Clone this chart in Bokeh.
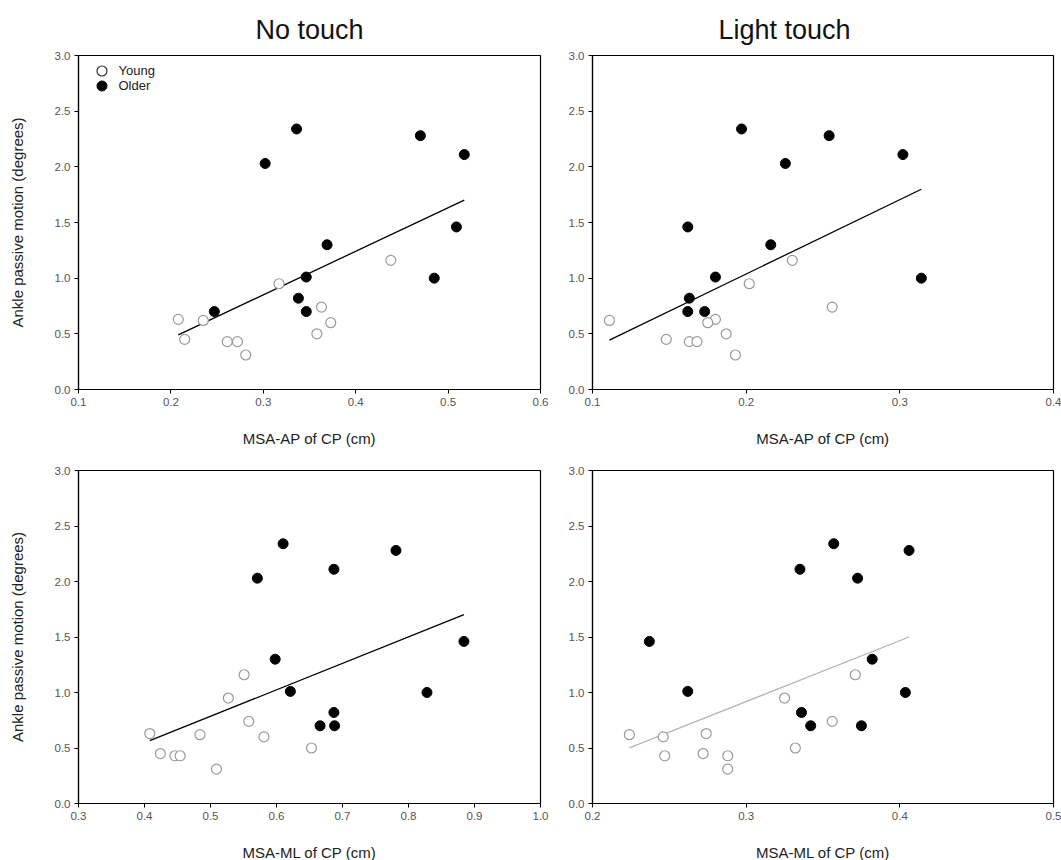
import numpy as np
from bokeh.plotting import figure
from bokeh.layouts import column, row
from bokeh.models import Legend, LegendItem, FixedTicker, PrintfTickFormatter, Range1d
from bokeh.embed import file_html
from bokeh.resources import INLINE

# Ankle passive motion (degrees) -- shared by every panel
y_young = [0.63, 0.45, 0.62, 0.43, 0.43, 0.31, 0.95, 0.50, 0.74, 0.60, 1.16]
y_older = [0.70, 2.03, 2.34, 0.82, 1.01, 0.70, 1.30, 2.28, 1.00, 1.46, 2.11]

# MSA-AP of CP (cm), No touch
ap_nt_young = [0.208, 0.215, 0.235, 0.261, 0.272, 0.281, 0.317, 0.358, 0.363, 0.373, 0.438]
ap_nt_older = [0.247, 0.302, 0.336, 0.338, 0.3465, 0.3465, 0.369, 0.470, 0.485, 0.509, 0.5175]
# MSA-AP of CP (cm), Light touch
ap_lt_young = [0.180, 0.148, 0.111, 0.163, 0.168, 0.193, 0.202, 0.187, 0.256, 0.175, 0.230]
ap_lt_older = [0.162, 0.2255, 0.197, 0.163, 0.180, 0.173, 0.216, 0.254, 0.314, 0.162, 0.302]
# MSA-ML of CP (cm), No touch
ml_nt_young = [0.408, 0.424, 0.484, 0.446, 0.454, 0.509, 0.527, 0.653, 0.558, 0.581, 0.551]
ml_nt_older = [0.666, 0.571, 0.610, 0.687, 0.621, 0.688, 0.598, 0.781, 0.828, 0.884, 0.687]
# MSA-ML of CP (cm), Light touch
ml_lt_young = [0.274, 0.272, 0.224, 0.247, 0.288, 0.288, 0.325, 0.332, 0.356, 0.246, 0.371]
ml_lt_older = [0.342, 0.3725, 0.357, 0.336, 0.262, 0.375, 0.382, 0.406, 0.4036, 0.237, 0.335]

y_ticks = [0.0, 0.5, 1.0, 1.5, 2.0, 2.5, 3.0]
x_ticks_ap_nt = [0.1, 0.2, 0.3, 0.4, 0.5, 0.6]
x_ticks_ap_lt = [0.1, 0.2, 0.3, 0.4]
x_ticks_ml_nt = [0.3, 0.4, 0.5, 0.6, 0.7, 0.8, 0.9, 1.0]
x_ticks_ml_lt = [0.2, 0.3, 0.4, 0.5]

titles = ["No touch", "Light touch"]
x_labels = ["MSA-AP of CP (cm)", "MSA-ML of CP (cm)"]
y_label = "Ankle passive motion (degrees)"
legend_labels = ["Young", "Older"]

FONT = "Liberation Sans"


def make_legend(label, renderer, loc):
    lg = Legend(items=[LegendItem(label=label, renderers=[renderer])],
                location=loc)
    lg.background_fill_alpha = 0
    lg.border_line_color = None
    lg.inactive_fill_alpha = 0
    lg.padding = 0
    lg.margin = 0
    lg.glyph_width = 25
    lg.glyph_height = 25
    lg.label_height = 13
    lg.label_standoff = 5
    lg.label_text_font = FONT
    lg.label_text_font_size = "13px"
    lg.label_text_color = "#222222"
    return lg


def panel(xy, xo, xticks, xlabel, ylabel, title, title_offset, fit_color,
          legend, fw, fh, bl, br, bt, bb):
    p = figure(frame_width=fw, frame_height=fh,
               x_range=Range1d(xticks[0], xticks[-1]),
               y_range=Range1d(y_ticks[0], y_ticks[-1]),
               output_backend="svg", toolbar_location=None,
               min_border_left=bl, min_border_right=br,
               min_border_top=bt, min_border_bottom=bb,
               background_fill_color="white", border_fill_color="white")
    p.grid.visible = False
    p.outline_line_color = "black"
    p.outline_line_width = 1.2

    for ax, ticks in ((p.xaxis[0], xticks), (p.yaxis[0], y_ticks)):
        ax.ticker = FixedTicker(ticks=ticks)
        ax.formatter = PrintfTickFormatter(format="%.1f")
        ax.major_tick_in = 0
        ax.major_tick_out = 4
        ax.minor_tick_line_color = None
        ax.axis_line_color = "black"
        ax.axis_line_width = 1.2
        ax.major_tick_line_color = "black"
        ax.major_label_text_font = FONT
        ax.major_label_text_font_size = "11.5px"
        ax.major_label_text_color = "#555555"
        ax.major_label_standoff = 4
        ax.axis_label_text_font = FONT
        ax.axis_label_text_font_size = "15px"
        ax.axis_label_text_font_style = "normal"
        ax.axis_label_text_color = "#222222"

    p.xaxis.axis_label = xlabel
    p.xaxis.axis_label_standoff = 21
    if ylabel:
        p.yaxis.axis_label = ylabel
        p.yaxis.axis_label_standoff = 26

    if title:
        p.title.text = title
        p.title.text_font = FONT
        p.title.text_font_size = "27px"
        p.title.text_font_style = "normal"
        p.title.text_color = "#111111"
        if title_offset is None:
            p.title.align = "center"
        else:
            p.title.align = "left"
            p.title.offset = title_offset
        p.title.standoff = 22

    # regression line through all subjects
    xa = np.array(xy + xo)
    ya = np.array(y_young + y_older)
    coef = np.polyfit(xa, ya, 1)
    xs = np.array([xa.min(), xa.max()])
    p.line(xs, np.polyval(coef, xs), line_color=fit_color, line_width=1.3)

    p.scatter(xy, y_young, size=10, fill_color="white",
              line_color="#9a9a9a", line_width=1.2)
    p.scatter(xo, y_older, size=10, fill_color="black",
              line_color="black", line_width=1)

    if legend:
        ry = p.scatter(xy, y_young, fill_color="white",
                       line_color="#333333", line_width=1.2, visible=False)
        ro = p.scatter(xo, y_older, fill_color="black",
                       line_color="black", visible=False)
        p.add_layout(make_legend(legend_labels[0], ry, (10.5, fh - 27.5)))
        p.add_layout(make_legend(legend_labels[1], ro, (10.5, fh - 42.5)))
    return p


p1 = panel(ap_nt_young, ap_nt_older, x_ticks_ap_nt, x_labels[0], y_label,
           titles[0], None, "black", True, 462, 334, 78, 10, 55, 65)
p2 = panel(ap_lt_young, ap_lt_older, x_ticks_ap_lt, x_labels[0], None,
           titles[1], 126, "black", False, 461, 334, 42, 8, 55, 65)
p3 = panel(ml_nt_young, ml_nt_older, x_ticks_ml_nt, x_labels[1], y_label,
           None, None, "black", False, 462, 333, 78, 10, 16, 57)
p4 = panel(ml_lt_young, ml_lt_older, x_ticks_ml_lt, x_labels[1], None,
           None, None, "#b5b5b5", False, 461, 333, 42, 8, 16, 57)

layout = column(row(p1, p2), row(p3, p4))
open("out.html", "w").write(file_html(layout, INLINE))
